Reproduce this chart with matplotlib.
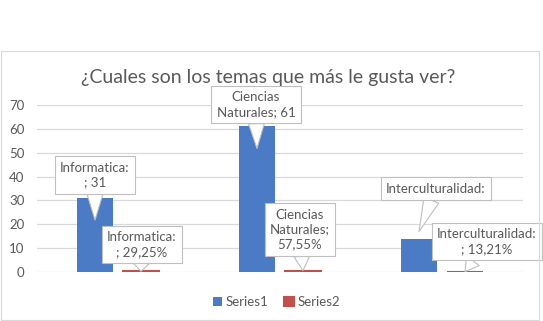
import matplotlib
matplotlib.use("Agg")
import matplotlib.pyplot as plt
import matplotlib.transforms as mtransforms
from matplotlib.patches import Rectangle
import numpy as np

BLUE = "#4A7BC4"
RED = "#C0504D"
GRID = "#D9D9D9"
TXT = "#595959"

plt.rcParams["font.family"] = ["Lato", "DejaVu Sans"]

categories = ["Informatica", "Ciencias Naturales", "Interculturalidad"]
series1 = [31, 61, 14]
series2 = [0.2925, 0.5755, 0.1321]
series1_labels = ["Informatica:\n; 31", "Ciencias\nNaturales; 61", "Interculturalidad:"]
series2_labels = ["Informatica:\n; 29,25%", "Ciencias\nNaturales;\n57,55%", "Interculturalidad:\n; 13,21%"]
yticks = [0, 10, 20, 30, 40, 50, 60, 70]
title = "¿Cuales son los temas que más le gusta ver?"

fig = plt.figure(figsize=(5.43, 3.21), dpi=100)
fig.patches.append(Rectangle((1 / 543, 1 / 321), 538 / 543, 269 / 321, transform=fig.transFigure,
                             fill=False, edgecolor=GRID, linewidth=0.8))
ax = fig.add_axes([37 / 543, 1 - 272 / 321, 486 / 543, 167 / 321])

x = np.arange(len(categories))
w = 0.222
b1 = ax.bar(x - 0.142, series1, w, color=BLUE, label="Series1", zorder=2)
b2 = ax.bar(x + 0.142, series2, w, color=RED, edgecolor=RED, linewidth=1.5,
            label="Series2", zorder=2)

ax.set_xlim(-0.5, 2.5)
ax.set_ylim(0, 70)
ax.set_yticks(yticks)
ax.set_xticks([])
ax.yaxis.grid(True, color=GRID, linewidth=0.9, zorder=0)
ax.tick_params(axis="y", length=0, pad=9, labelsize=9.5, labelcolor=TXT)
for s in ax.spines.values():
    s.set_visible(False)

fig.text(0.493, 0.758, title, ha="center", va="center", fontsize=14, color=TXT)


def callout(xv, yv, text, tip_dy, dx, dy):
    tr = mtransforms.offset_copy(ax.transData, fig=fig, x=0, y=tip_dy, units="dots")
    ax.annotate(text, xy=(xv, yv), xycoords=tr, xytext=(dx, dy), textcoords="offset pixels",
                ha="center", va="center", multialignment="center", fontsize=9.5, color=TXT,
                linespacing=1.3,
                bbox=dict(boxstyle="square,pad=0.4", fc="white", ec="#BFBFBF", lw=0.8),
                arrowprops=dict(arrowstyle="wedge,tail_width=1.2", fc="white", ec="#BFBFBF",
                                lw=0.8, shrinkA=0, shrinkB=0),
                zorder=5, annotation_clip=False)


# tip offset (px from bar top), box offset from tip (px)
s1_pos = [(-22, 0, 45), (-22, -1, 44), (7, 17, 43)]
s2_pos = [(0, 1, 27), (0, -3, 41), (0, 22, 30)]
for i in range(len(categories)):
    t, dx, dy = s1_pos[i]
    callout(x[i] - 0.142, series1[i], series1_labels[i], t, dx, dy)
    t, dx, dy = s2_pos[i]
    callout(x[i] + 0.142, series2[i], series2_labels[i], t, dx, dy)

fig.legend(handles=[b1, b2], loc="center", bbox_to_anchor=(0.509, 0.059), ncol=2,
           frameon=False, fontsize=9.5, labelcolor=TXT, handlelength=0.7, handleheight=0.7,
           handletextpad=0.3, columnspacing=1.2)

fig.savefig("out.png", dpi=100)
